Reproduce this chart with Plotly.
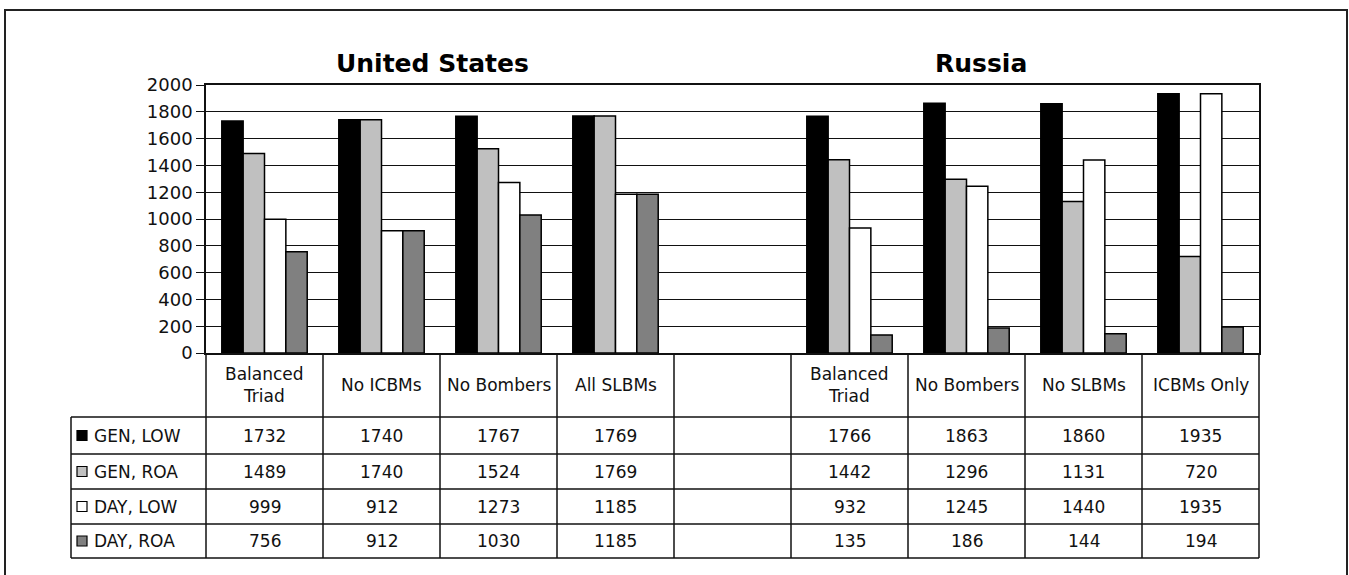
import plotly.graph_objects as go

# Scenario columns (one blank spacer column separates the two countries)
scenarios = ["Balanced<br>Triad", "No ICBMs", "No Bombers", "All SLBMs", "",
             "Balanced<br>Triad", "No Bombers", "No SLBMs", "ICBMs Only"]

series_names = ["GEN, LOW", "GEN, ROA", "DAY, LOW", "DAY, ROA"]
gen_low = [1732, 1740, 1767, 1769, None, 1766, 1863, 1860, 1935]
gen_roa = [1489, 1740, 1524, 1769, None, 1442, 1296, 1131, 720]
day_low = [999, 912, 1273, 1185, None, 932, 1245, 1440, 1935]
day_roa = [756, 912, 1030, 1185, None, 135, 186, 144, 194]
series_values = [gen_low, gen_roa, day_low, day_roa]
series_colors = ["#000000", "#c0c0c0", "#ffffff", "#808080"]

y_ticks = [0, 200, 400, 600, 800, 1000, 1200, 1400, 1600, 1800, 2000]
group_titles = ["United States", "Russia"]

W, H = 1349, 575
PL, PR, PT, PB = 206, 1259, 85, 353  # plot area in pixels
FONT = "DejaVu Sans"
TEXT = "#111111"


def px_x(px):
    return (px - PL) / (PR - PL)


def px_y(py):
    return (PB - py) / (PB - PT)


xs = list(range(len(scenarios)))

fig = go.Figure()
for name, vals, col in zip(series_names, series_values, series_colors):
    fig.add_trace(go.Bar(
        x=xs, y=vals, name=name,
        marker=dict(color=col, line=dict(color="#000000", width=1.5)),
        showlegend=False,
    ))

shapes = []
annotations = []
line = dict(color=TEXT, width=1.5)

# outer frame
shapes.append(dict(type="rect", xref="paper", yref="paper",
                   x0=px_x(5), x1=px_x(1347), y0=px_y(600), y1=px_y(10),
                   line=dict(color="#222222", width=2), layer="below"))

# data table grid
row_lines = [417, 454, 489, 524, 558]
col_edges = [PL + (PR - PL) * i / len(scenarios) for i in range(len(scenarios) + 1)]
label_left = 71
for yp in row_lines:
    shapes.append(dict(type="line", xref="paper", yref="paper",
                       x0=px_x(label_left), x1=px_x(PR), y0=px_y(yp), y1=px_y(yp), line=line))
for xp in col_edges:
    shapes.append(dict(type="line", xref="paper", yref="paper",
                       x0=px_x(xp), x1=px_x(xp), y0=px_y(PB), y1=px_y(row_lines[-1]), line=line))
shapes.append(dict(type="line", xref="paper", yref="paper",
                   x0=px_x(label_left), x1=px_x(label_left),
                   y0=px_y(row_lines[0]), y1=px_y(row_lines[-1]), line=line))

cell_font = dict(family=FONT, size=17, color=TEXT)

# header labels
for i, lab in enumerate(scenarios):
    if not lab:
        continue
    annotations.append(dict(xref="x", yref="paper", x=i, y=px_y((PB + row_lines[0]) / 2),
                            xanchor="center", yanchor="middle",
                            text=lab, showarrow=False, font=cell_font))

# row labels with swatches, and cell values
for r, (name, vals, col) in enumerate(zip(series_names, series_values, series_colors)):
    top, bot = row_lines[r], row_lines[r + 1]
    mid = (top + bot) / 2
    shapes.append(dict(type="rect", xref="paper", yref="paper",
                       x0=px_x(77), x1=px_x(87), y0=px_y(mid + 5), y1=px_y(mid - 5),
                       fillcolor=col, line=dict(color="#000000", width=1.2)))
    annotations.append(dict(xref="paper", yref="paper", x=px_x(92), y=px_y(mid),
                            xanchor="left", yanchor="middle", text=name, showarrow=False,
                            font=cell_font))
    for i, v in enumerate(vals):
        if v is None:
            continue
        annotations.append(dict(xref="x", yref="paper", x=i, y=px_y(mid),
                                xanchor="center", yanchor="middle",
                                text=str(v), showarrow=False, font=cell_font))

# group titles
for title, cx in zip(group_titles, [432, 981]):
    annotations.append(dict(xref="paper", yref="paper", x=px_x(cx), y=px_y(64),
                            xanchor="center", yanchor="middle",
                            text="<b>%s</b>" % title, showarrow=False,
                            font=dict(family=FONT, size=25, color="#000000")))

fig.update_layout(
    width=W, height=H,
    margin=dict(l=PL, r=W - PR, t=PT, b=H - PB, pad=0),
    paper_bgcolor="#ffffff", plot_bgcolor="#ffffff",
    barmode="group", bargap=0.27, bargroupgap=0,
    shapes=shapes, annotations=annotations,
    font=dict(family=FONT, size=17, color=TEXT),
)
fig.update_xaxes(range=[-0.5, len(scenarios) - 0.5], showticklabels=False,
                 showgrid=False, zeroline=False, showline=True, mirror=True,
                 linecolor=TEXT, linewidth=1.5, ticks="")
fig.update_yaxes(range=[0, 2000], tickvals=y_ticks, showgrid=True,
                 gridcolor=TEXT, gridwidth=1, zeroline=False,
                 showline=True, mirror=True, linecolor=TEXT, linewidth=1.5,
                 ticks="outside", ticklen=8, tickcolor=TEXT,
                 tickfont=dict(family=FONT, size=18, color=TEXT))

fig.write_html("out.html")
